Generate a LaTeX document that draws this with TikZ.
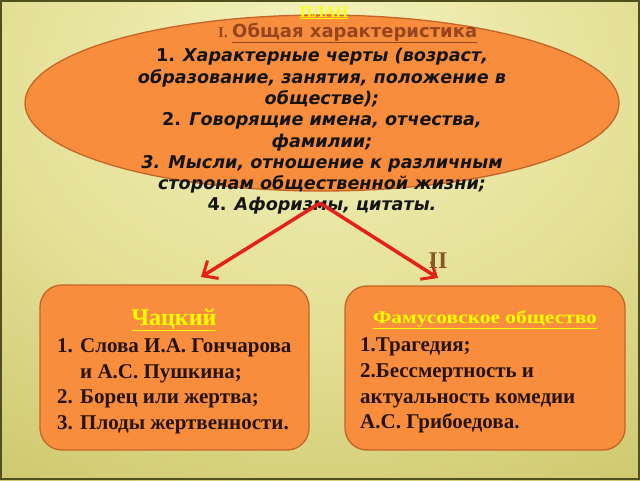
\documentclass[tikz,border=0pt]{standalone}
\usepackage{fontspec}
\usepackage{graphicx}
\setmainfont{Liberation Serif}
\newfontfamily\dvs{DejaVu Sans}
\usetikzlibrary{arrows.meta,shapes.geometric}
\definecolor{orfill}{RGB}{249,141,62}
\definecolor{ordraw}{RGB}{196,100,38}
\definecolor{hdrbrown}{RGB}{150,70,30}
\definecolor{txtdark}{RGB}{38,18,8}
\definecolor{redarr}{RGB}{228,32,24}
\definecolor{romcol}{RGB}{135,88,38}
\definecolor{plyellow}{RGB}{255,255,0}
\definecolor{bga}{RGB}{244,242,190}
\definecolor{bgb}{RGB}{228,224,150}
\definecolor{bgc}{RGB}{200,193,98}
\definecolor{bgd}{RGB}{168,160,60}
\definecolor{framecol}{RGB}{80,80,30}
\pgfdeclareradialshading{bgshade}{\pgfpoint{0bp}{22bp}}{color(0bp)=(bga); color(25bp)=(bgb); color(50bp)=(bgc); color(75bp)=(bgd); color(90bp)=(bgd)}
\tikzset{
  orbox/.style={draw=ordraw, fill=orfill, line width=1.3pt, rounded corners=22pt, inner sep=0pt},
  redarrow/.style={draw=redarr, line width=3.5pt, -{Straight Barb[length=12pt,width=21pt,line width=3pt]}},
  elltext/.style={font=\dvs\bfseries\itshape\fontsize{17.6}{21.3}\selectfont, text=black!92, align=center, inner sep=0pt},
  boxtext/.style={font=\bfseries\fontsize{21}{21}\selectfont, text=txtdark, anchor=base west, inner sep=0pt},
  ytitle/.style={text=plyellow, anchor=base, inner sep=0pt}
}
\begin{document}
\begin{tikzpicture}[x=1pt,y=-1pt]
\useasboundingbox (0,0) rectangle (640,480);
\shade[shading=bgshade] (0,0) rectangle (640,480);
\draw[framecol, line width=2pt] (1,1) rectangle (639,479);
% ellipse
\node[ellipse, draw=ordraw, fill=orfill, line width=1.3pt, minimum width=594pt, minimum height=176pt, inner sep=0pt] (ell) at (322,103) {};
\node[ytitle, font=\bfseries\fontsize{16}{16}\selectfont] (plan) at (324,17) {\underline{ПЛАН}};
\node[anchor=base west, inner sep=0pt, text=hdrbrown, font=\bfseries\fontsize{15}{15}\selectfont] (hdrnum) at (218,37) {I.};
\node[anchor=base west, inner sep=0pt, text=hdrbrown, font=\dvs\bfseries\fontsize{18}{18}\selectfont] (hdr) at (232,37) {\underline{Общая характеристика}};
\node[elltext] (body) at (322,131.5) {{\upshape 1.} Характерные черты (возраст,\\ образование, занятия, положение в\\ обществе);\\ {\upshape 2.} Говорящие имена, отчества,\\ фамилии;\\ 3. Мысли, отношение к различным\\ сторонам общественной жизни;\\ {\upshape 4.} Афоризмы, цитаты.};
% arrows
\coordinate (apex) at (320,203);
\coordinate (ltip) at (201,277);
\coordinate (rtip) at (438,278);
\draw[redarrow] (apex) -- (ltip);
\draw[redarrow] (apex) -- (rtip);
\node[anchor=base, inner sep=0pt, text=romcol, font=\bfseries\fontsize{24}{24}\selectfont] (two) at (438,268) {II};
% boxes
\node[orbox, minimum width=269pt, minimum height=165pt] (lbox) at (174.5,367.5) {};
\node[orbox, minimum width=280pt, minimum height=164pt] (rbox) at (485,368) {};
\node[ytitle, font=\bfseries\fontsize{24}{24}\selectfont] (chat) at (174,325) {\underline{Чацкий}};
\node[boxtext] (l1n) at (57,352) {1.};
\node[boxtext] (l1) at (80,352) {Слова И.А. Гончарова};
\node[boxtext] (l1b) at (80,378) {и А.С. Пушкина;};
\node[boxtext] (l2n) at (57,403) {2.};
\node[boxtext] (l2) at (80,403) {Борец или жертва;};
\node[boxtext] (l3n) at (57,429) {3.};
\node[boxtext] (l3) at (80,429) {Плоды жертвенности.};
\node[ytitle, font=\bfseries\fontsize{18}{18}\selectfont] (famt) at (485,323) {\scalebox{1.19}[1]{\underline{Фамусовское общество}}};
\node[boxtext] (r1) at (360,351) {1.Трагедия;};
\node[boxtext] (r2) at (360,377) {2.Бессмертность и};
\node[boxtext] (r3) at (360,403) {актуальность комедии};
\node[boxtext] (r4) at (360,428) {А.С. Грибоедова.};
\end{tikzpicture}
\end{document}
